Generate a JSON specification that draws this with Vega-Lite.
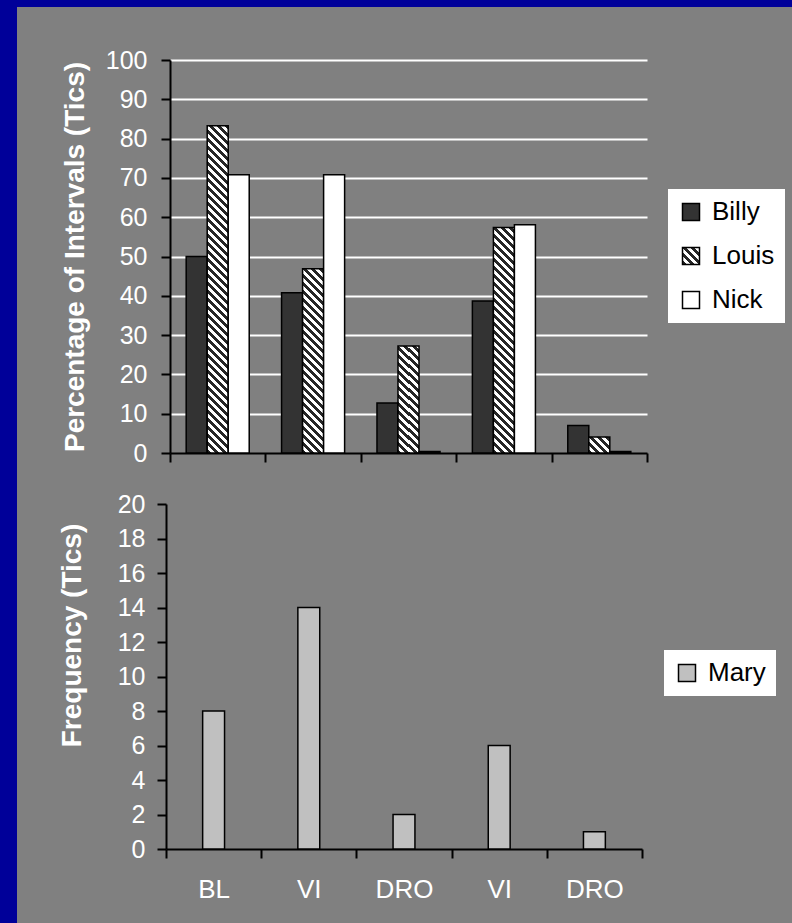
{
  "$schema": "https://vega.github.io/schema/vega-lite/v6.json",
  "width": 775,
  "height": 916,
  "autosize": {"type": "none"},
  "padding": {"left": 17, "top": 7, "right": 0, "bottom": 0},
  "background": "#000099",
  "params": [
    {
      "name": "hatch",
      "value": [
        {"offset":0,"color":"#262626"},{"offset":0.01,"color":"#262626"},{"offset":0.01,"color":"#fff"},{"offset":0.02,"color":"#fff"},
        {"offset":0.02,"color":"#262626"},{"offset":0.03,"color":"#262626"},{"offset":0.03,"color":"#fff"},{"offset":0.04,"color":"#fff"},
        {"offset":0.04,"color":"#262626"},{"offset":0.05,"color":"#262626"},{"offset":0.05,"color":"#fff"},{"offset":0.06,"color":"#fff"},
        {"offset":0.06,"color":"#262626"},{"offset":0.07,"color":"#262626"},{"offset":0.07,"color":"#fff"},{"offset":0.08,"color":"#fff"},
        {"offset":0.08,"color":"#262626"},{"offset":0.09,"color":"#262626"},{"offset":0.09,"color":"#fff"},{"offset":0.1,"color":"#fff"},
        {"offset":0.1,"color":"#262626"},{"offset":0.11,"color":"#262626"},{"offset":0.11,"color":"#fff"},{"offset":0.12,"color":"#fff"},
        {"offset":0.12,"color":"#262626"},{"offset":0.13,"color":"#262626"},{"offset":0.13,"color":"#fff"},{"offset":0.14,"color":"#fff"},
        {"offset":0.14,"color":"#262626"},{"offset":0.15,"color":"#262626"},{"offset":0.15,"color":"#fff"},{"offset":0.16,"color":"#fff"},
        {"offset":0.16,"color":"#262626"},{"offset":0.17,"color":"#262626"},{"offset":0.17,"color":"#fff"},{"offset":0.18,"color":"#fff"},
        {"offset":0.18,"color":"#262626"},{"offset":0.19,"color":"#262626"},{"offset":0.19,"color":"#fff"},{"offset":0.2,"color":"#fff"},
        {"offset":0.2,"color":"#262626"},{"offset":0.21,"color":"#262626"},{"offset":0.21,"color":"#fff"},{"offset":0.22,"color":"#fff"},
        {"offset":0.22,"color":"#262626"},{"offset":0.23,"color":"#262626"},{"offset":0.23,"color":"#fff"},{"offset":0.24,"color":"#fff"},
        {"offset":0.24,"color":"#262626"},{"offset":0.25,"color":"#262626"},{"offset":0.25,"color":"#fff"},{"offset":0.26,"color":"#fff"},
        {"offset":0.26,"color":"#262626"},{"offset":0.27,"color":"#262626"},{"offset":0.27,"color":"#fff"},{"offset":0.28,"color":"#fff"},
        {"offset":0.28,"color":"#262626"},{"offset":0.29,"color":"#262626"},{"offset":0.29,"color":"#fff"},{"offset":0.3,"color":"#fff"},
        {"offset":0.3,"color":"#262626"},{"offset":0.31,"color":"#262626"},{"offset":0.31,"color":"#fff"},{"offset":0.32,"color":"#fff"},
        {"offset":0.32,"color":"#262626"},{"offset":0.33,"color":"#262626"},{"offset":0.33,"color":"#fff"},{"offset":0.34,"color":"#fff"},
        {"offset":0.34,"color":"#262626"},{"offset":0.35,"color":"#262626"},{"offset":0.35,"color":"#fff"},{"offset":0.36,"color":"#fff"},
        {"offset":0.36,"color":"#262626"},{"offset":0.37,"color":"#262626"},{"offset":0.37,"color":"#fff"},{"offset":0.38,"color":"#fff"},
        {"offset":0.38,"color":"#262626"},{"offset":0.39,"color":"#262626"},{"offset":0.39,"color":"#fff"},{"offset":0.4,"color":"#fff"},
        {"offset":0.4,"color":"#262626"},{"offset":0.41,"color":"#262626"},{"offset":0.41,"color":"#fff"},{"offset":0.42,"color":"#fff"},
        {"offset":0.42,"color":"#262626"},{"offset":0.43,"color":"#262626"},{"offset":0.43,"color":"#fff"},{"offset":0.44,"color":"#fff"},
        {"offset":0.44,"color":"#262626"},{"offset":0.45,"color":"#262626"},{"offset":0.45,"color":"#fff"},{"offset":0.46,"color":"#fff"},
        {"offset":0.46,"color":"#262626"},{"offset":0.47,"color":"#262626"},{"offset":0.47,"color":"#fff"},{"offset":0.48,"color":"#fff"},
        {"offset":0.48,"color":"#262626"},{"offset":0.49,"color":"#262626"},{"offset":0.49,"color":"#fff"},{"offset":0.5,"color":"#fff"},
        {"offset":0.5,"color":"#262626"},{"offset":0.51,"color":"#262626"},{"offset":0.51,"color":"#fff"},{"offset":0.52,"color":"#fff"},
        {"offset":0.52,"color":"#262626"},{"offset":0.53,"color":"#262626"},{"offset":0.53,"color":"#fff"},{"offset":0.54,"color":"#fff"},
        {"offset":0.54,"color":"#262626"},{"offset":0.55,"color":"#262626"},{"offset":0.55,"color":"#fff"},{"offset":0.56,"color":"#fff"},
        {"offset":0.56,"color":"#262626"},{"offset":0.57,"color":"#262626"},{"offset":0.57,"color":"#fff"},{"offset":0.58,"color":"#fff"},
        {"offset":0.58,"color":"#262626"},{"offset":0.59,"color":"#262626"},{"offset":0.59,"color":"#fff"},{"offset":0.6,"color":"#fff"},
        {"offset":0.6,"color":"#262626"},{"offset":0.61,"color":"#262626"},{"offset":0.61,"color":"#fff"},{"offset":0.62,"color":"#fff"},
        {"offset":0.62,"color":"#262626"},{"offset":0.63,"color":"#262626"},{"offset":0.63,"color":"#fff"},{"offset":0.64,"color":"#fff"},
        {"offset":0.64,"color":"#262626"},{"offset":0.65,"color":"#262626"},{"offset":0.65,"color":"#fff"},{"offset":0.66,"color":"#fff"},
        {"offset":0.66,"color":"#262626"},{"offset":0.67,"color":"#262626"},{"offset":0.67,"color":"#fff"},{"offset":0.68,"color":"#fff"},
        {"offset":0.68,"color":"#262626"},{"offset":0.69,"color":"#262626"},{"offset":0.69,"color":"#fff"},{"offset":0.7,"color":"#fff"},
        {"offset":0.7,"color":"#262626"},{"offset":0.71,"color":"#262626"},{"offset":0.71,"color":"#fff"},{"offset":0.72,"color":"#fff"},
        {"offset":0.72,"color":"#262626"},{"offset":0.73,"color":"#262626"},{"offset":0.73,"color":"#fff"},{"offset":0.74,"color":"#fff"},
        {"offset":0.74,"color":"#262626"},{"offset":0.75,"color":"#262626"},{"offset":0.75,"color":"#fff"},{"offset":0.76,"color":"#fff"},
        {"offset":0.76,"color":"#262626"},{"offset":0.77,"color":"#262626"},{"offset":0.77,"color":"#fff"},{"offset":0.78,"color":"#fff"},
        {"offset":0.78,"color":"#262626"},{"offset":0.79,"color":"#262626"},{"offset":0.79,"color":"#fff"},{"offset":0.8,"color":"#fff"},
        {"offset":0.8,"color":"#262626"},{"offset":0.81,"color":"#262626"},{"offset":0.81,"color":"#fff"},{"offset":0.82,"color":"#fff"},
        {"offset":0.82,"color":"#262626"},{"offset":0.83,"color":"#262626"},{"offset":0.83,"color":"#fff"},{"offset":0.84,"color":"#fff"},
        {"offset":0.84,"color":"#262626"},{"offset":0.85,"color":"#262626"},{"offset":0.85,"color":"#fff"},{"offset":0.86,"color":"#fff"},
        {"offset":0.86,"color":"#262626"},{"offset":0.87,"color":"#262626"},{"offset":0.87,"color":"#fff"},{"offset":0.88,"color":"#fff"},
        {"offset":0.88,"color":"#262626"},{"offset":0.89,"color":"#262626"},{"offset":0.89,"color":"#fff"},{"offset":0.9,"color":"#fff"}
      ]
    }
  ],
  "datasets": {
    "intervals": [
      {"phase": "BL", "student": "Billy", "pct": 50},
      {"phase": "BL", "student": "Louis", "pct": 83.3},
      {"phase": "BL", "student": "Nick", "pct": 70.8},
      {"phase": "VI", "student": "Billy", "pct": 40.8},
      {"phase": "VI", "student": "Louis", "pct": 46.9},
      {"phase": "VI", "student": "Nick", "pct": 70.8},
      {"phase": "DRO", "student": "Billy", "pct": 12.7},
      {"phase": "DRO", "student": "Louis", "pct": 27.2},
      {"phase": "DRO", "student": "Nick", "pct": 0.4},
      {"phase": "VI 2", "student": "Billy", "pct": 38.7},
      {"phase": "VI 2", "student": "Louis", "pct": 57.4},
      {"phase": "VI 2", "student": "Nick", "pct": 58.1},
      {"phase": "DRO 2", "student": "Billy", "pct": 7},
      {"phase": "DRO 2", "student": "Louis", "pct": 4.1},
      {"phase": "DRO 2", "student": "Nick", "pct": 0.4}
    ],
    "frequency": [
      {"phase": "BL", "student": "Mary", "tics": 8},
      {"phase": "VI", "student": "Mary", "tics": 14},
      {"phase": "DRO", "student": "Mary", "tics": 2},
      {"phase": "VI 2", "student": "Mary", "tics": 6},
      {"phase": "DRO 2", "student": "Mary", "tics": 1}
    ]
  },
  "layer": [
    {
      "data": {"name": "intervals"},
      "mark": {"type": "bar", "stroke": "black", "strokeWidth": 1.5},
      "encoding": {
        "x": {
          "field": "phase",
          "type": "nominal",
          "sort": ["BL", "VI", "DRO", "VI 2", "DRO 2"],
          "scale": {"range": [153, 630], "paddingInner": 0, "paddingOuter": 0},
          "axis": {"orient": "bottom", "offset": -470, "labels": false, "title": null, "tickBand": "extent", "grid": false}
        },
        "xOffset": {
          "field": "student",
          "type": "nominal",
          "sort": ["Billy", "Louis", "Nick"],
          "scale": {"paddingInner": 0, "paddingOuter": 0.77}
        },
        "y": {
          "field": "pct",
          "type": "quantitative",
          "stack": null,
          "scale": {"domain": [0, 100], "range": [446, 53]},
          "axis": {
            "orient": "left",
            "offset": -153,
            "values": [0, 10, 20, 30, 40, 50, 60, 70, 80, 90, 100],
            "title": "Percentage of Intervals (Tics)",
            "titlePadding": 16,
            "labelPadding": 14,
            "gridOpacity": {"condition": {"test": "datum.value === 0", "value": 0}, "value": 1}
          }
        },
        "fill": {
          "condition": {
            "test": "datum.student === 'Louis'",
            "value": {"expr": "{gradient: 'linear', x1: 0, y1: 1, x2: 400 * 21 / (441 + pow(3.93 * datum.pct, 2)), y2: 1 - 400 * 3.93 * datum.pct / (441 + pow(3.93 * datum.pct, 2)), stops: hatch}"}
          },
          "field": "student",
          "type": "nominal",
          "scale": {
            "domain": ["Billy", "Louis", "Nick"],
            "range": ["#333333", {"expr": "{gradient: 'linear', x1: 0, y1: 1, x2: 11.765, y2: -10.765, stops: hatch}"}, "#ffffff"]
          },
          "legend": {"title": null, "legendX": 651, "legendY": 182}
        }
      }
    },
    {
      "data": {"name": "frequency"},
      "mark": {"type": "bar", "stroke": "black", "strokeWidth": 1.5, "width": {"band": 0.23}},
      "encoding": {
        "x": {
          "field": "phase",
          "type": "nominal",
          "sort": ["BL", "VI", "DRO", "VI 2", "DRO 2"],
          "scale": {"range": [149, 625], "paddingInner": 0, "paddingOuter": 0},
          "axis": {
            "orient": "bottom",
            "offset": -74,
            "title": null,
            "tickBand": "extent",
            "grid": false,
            "labelAngle": 0,
            "labelFontSize": 26,
            "labelPadding": 18,
            "labelExpr": "replace(datum.label, ' 2', '')"
          }
        },
        "y": {
          "field": "tics",
          "type": "quantitative",
          "stack": null,
          "scale": {"domain": [0, 20], "range": [842, 497]},
          "axis": {
            "orient": "left",
            "offset": -149,
            "values": [0, 2, 4, 6, 8, 10, 12, 14, 16, 18, 20],
            "title": "Frequency (Tics)",
            "titlePadding": 31,
            "titleY": 628,
            "labelPadding": 12,
            "gridOpacity": {"condition": {"test": "datum.value === 0", "value": 0}, "value": 1}
          }
        },
        "fill": {
          "field": "student",
          "type": "nominal",
          "scale": {"domain": ["Mary"], "range": ["#c0c0c0"]},
          "legend": {"title": null, "legendX": 647, "legendY": 643}
        }
      }
    }
  ],
  "resolve": {"scale": {"x": "independent", "y": "independent", "fill": "independent"}},
  "config": {
    "view": {"fill": "#808080", "stroke": null},
    "font": "Liberation Sans",
    "axis": {
      "domainColor": "black",
      "domainWidth": 2,
      "tickColor": "black",
      "tickWidth": 2,
      "tickSize": 9,
      "labelColor": "white",
      "labelFont": "Liberation Sans",
      "labelFontSize": 25,
      "titleColor": "white",
      "titleFont": "Liberation Sans",
      "titleFontSize": 28,
      "titleFontWeight": "bold",
      "gridColor": "white",
      "gridWidth": 2
    },
    "legend": {
      "orient": "none",
      "fillColor": "white",
      "padding": 10,
      "labelFont": "Liberation Sans",
      "labelFontSize": 26,
      "labelColor": "black",
      "labelOffset": 8,
      "rowPadding": 18,
      "symbolType": "square",
      "symbolSize": 289,
      "symbolStrokeColor": "black",
      "symbolStrokeWidth": 1.5
    }
  }
}
